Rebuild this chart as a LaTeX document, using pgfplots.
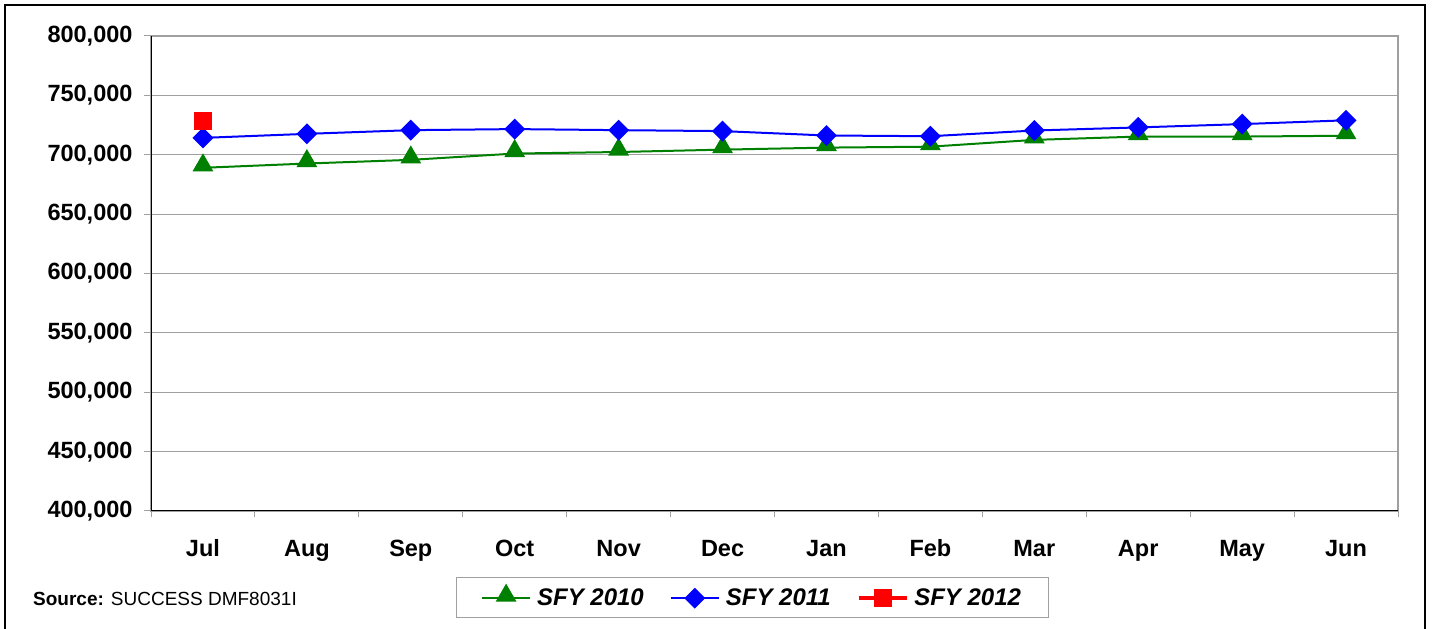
\documentclass[border=0pt]{standalone}
\usepackage{fontspec}
\setmainfont{Liberation Sans}
\usepackage{pgfplots}
\pgfplotsset{compat=1.18}
\definecolor{xlgreen}{RGB}{0,128,0}
\definecolor{xlblue}{RGB}{0,0,255}
\definecolor{xlred}{RGB}{255,0,0}
\definecolor{gridgray}{RGB}{160,160,160}
\begin{document}
\begin{tikzpicture}[x=1bp,y=1bp]
\useasboundingbox (0,0) rectangle (1433,629);
\draw[black, line width=2bp] (5,-5) rectangle (1425,624);
\begin{axis}[
  at={(151bp,118bp)}, anchor=south west,
  scale only axis, width=1247bp, height=475bp,
  xmin=-0.5, xmax=11.5, ymin=400000, ymax=800000,
  xtick={0,...,11},
  xticklabels={Jul,Aug,Sep,Oct,Nov,Dec,Jan,Feb,Mar,Apr,May,Jun},
  minor xtick={-0.5,0.5,...,11.5},
  ytick={400000,450000,...,800000},
  scaled y ticks=false,
  ytick pos=left, xtick pos=bottom,
  tick align=outside,
  major tick length=7bp, minor tick length=6bp,
  x tick style={draw=none},
  minor x tick style={draw=gridgray, line width=1bp},
  y tick style={draw=gridgray, line width=1bp},
  ymajorgrids, grid style={gridgray, line width=1bp},
  axis line style={gridgray, line width=1.5bp},
  ticklabel style={font=\fontsize{23.5bp}{27bp}\bfseries\selectfont},
  yticklabel style={xshift=-8bp, /pgf/number format/.cd, fixed, 1000 sep={,}, assume math mode=true},
  xticklabel style={anchor=base, yshift=-39bp},
  legend columns=3,
  legend style={at={(0.482,-0.182)}, anchor=center, draw=gridgray, line width=1bp,
    font=\fontsize{24bp}{28bp}\bfseries\itshape\selectfont,
    inner xsep=25bp, inner ysep=8bp,
    /tikz/every odd column/.append style={column sep=4bp},
    /tikz/every even column/.append style={column sep=24bp}},
  legend image code/.code={\draw[mark repeat=2,mark phase=2,#1] plot coordinates {(0bp,0bp)(24bp,0bp)(48bp,0bp)};},
]
\addplot[xlgreen, line width=2bp, mark=triangle*, mark size=10bp, mark options={solid, yshift=2.5bp}] coordinates {
(0,689000) (1,692600) (2,695700) (3,701000) (4,702300) (5,704300)
(6,706000) (7,706800) (8,712500) (9,715300) (10,715300) (11,716000)};
\addlegendentry{SFY 2010}
\addplot[xlblue, line width=2bp, mark=square*, mark size=6.4bp, mark options={solid, rotate=45}] coordinates {
(0,714200) (1,717600) (2,720700) (3,721600) (4,720700) (5,719900)
(6,716200) (7,715600) (8,720400) (9,723000) (10,725800) (11,729000)};
\addlegendentry{SFY 2011}
\addplot[xlred, line width=3.5bp, mark=square*, mark size=8.5bp, mark options={solid, line width=0.5bp}] coordinates {(0,728700)};
\addlegendentry{SFY 2012}
\draw[black, line width=1.5bp] (rel axis cs:0,0) -- (rel axis cs:0,1);
\draw[black, line width=1.5bp] (rel axis cs:0,0) -- (rel axis cs:1,0);
\end{axis}
\node[anchor=base west, inner sep=0pt, font=\fontsize{19bp}{22bp}\selectfont] at (33,23) {\textbf{Source:} SUCCESS DMF8031I};
\end{tikzpicture}
\end{document}
